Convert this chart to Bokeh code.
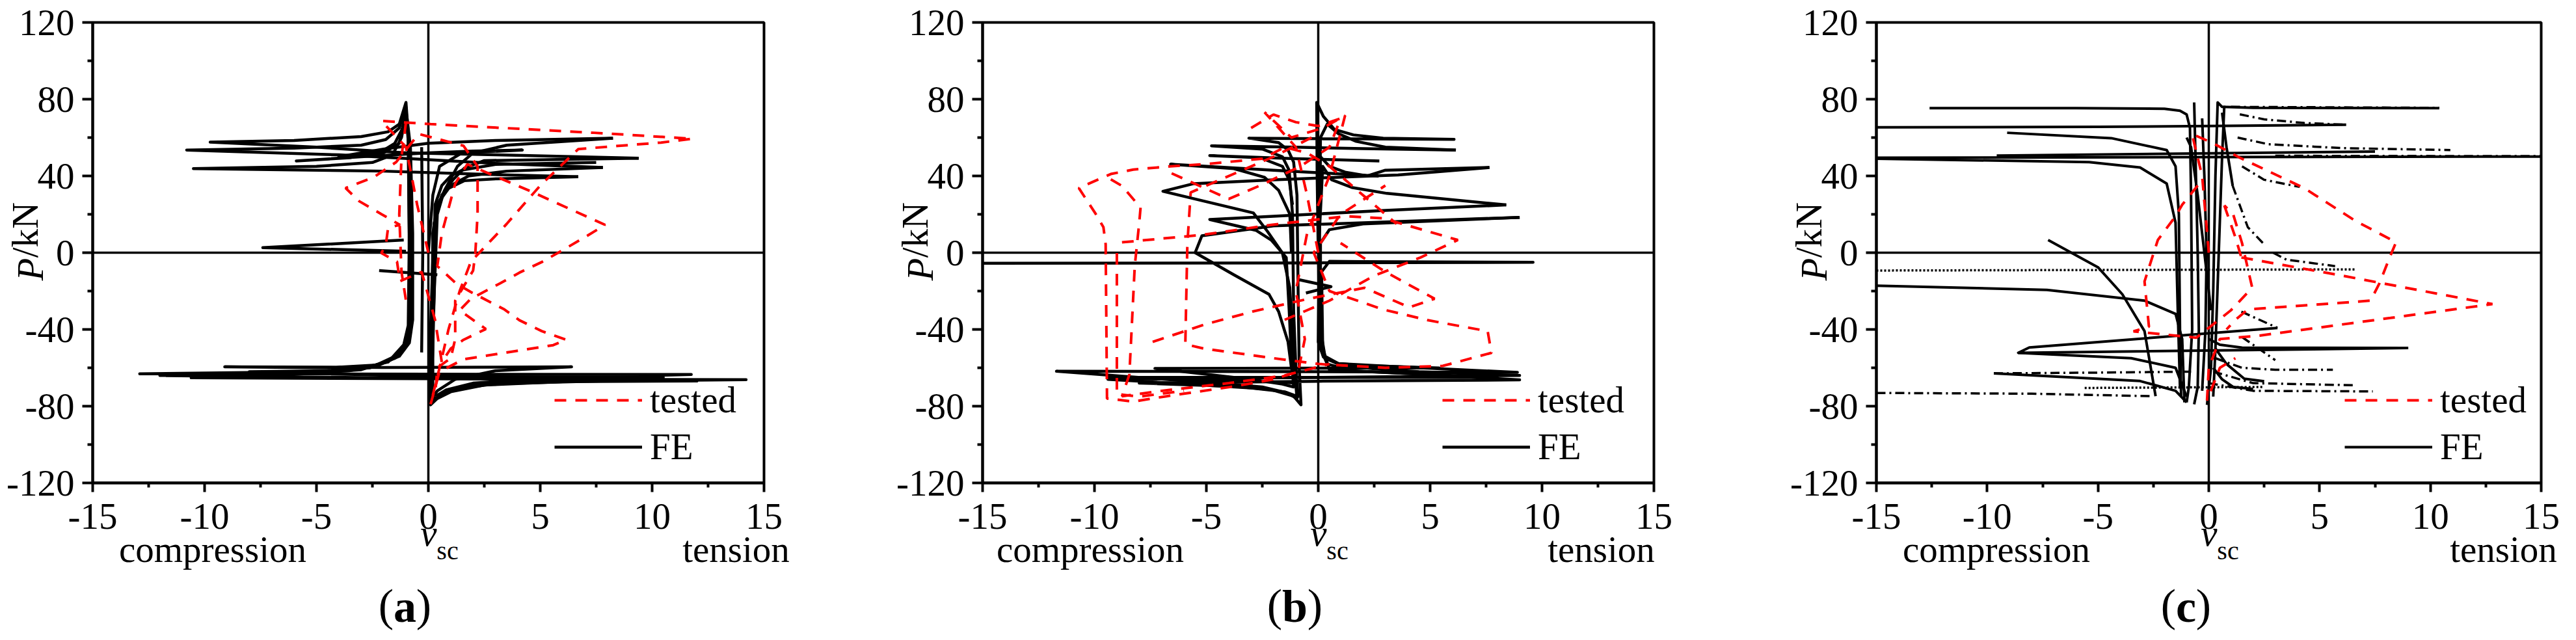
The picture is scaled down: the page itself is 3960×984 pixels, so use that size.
import math
from bokeh.plotting import figure
from bokeh.models import Range1d, FixedTicker, Span, Legend, LegendItem, LinearAxis
from bokeh.layouts import row
from bokeh.embed import file_html
from bokeh.resources import INLINE

FONT = "Liberation Serif"

# ---------------- axes ----------------
x_ticks = [-15, -10, -5, 0, 5, 10, 15]
x_tick_labels = ["-15", "-10", "-5", "0", "5", "10", "15"]
x_minor = [-12.5, -7.5, -2.5, 2.5, 7.5, 12.5]
y_ticks = [-120, -80, -40, 0, 40, 80, 120]
y_tick_labels = ["-120", "-80", "-40", "0", "40", "80", "120"]
y_minor = [-100, -60, -20, 20, 60, 100]

legend_labels = ["tested", "FE"]
side_words = ["compression", "tension"]
x_title = ["v", "sc"]
y_title = ["P", "/kN"]

# ---------------- panel (a) ----------------
a_fe_x = [
    [0, 0.2, 0.5, 1.5, 4.2, 2.0, 0.0, -3.0, -5.9, -3.5, -2.2, -1.5, -1.1, -0.95, -0.8, -0.7, -0.7, -0.85, -1.3, -2.2, -4.5, -9.1, -2.0, 6.4, 3.0, 1.2, 0.4, 0.1, 0.15, 0.2, 0.4, 0.8, 1.6, 3.0, 6.7],
    [6.7, 2.0, -2.0, -10.5, -5.0, -2.5, -1.6, -1.2, -1.0, -0.85, -0.8, -0.8, -1.0, -1.5, -2.6, -5.0, -12.9, 0.0, 11.75, 5.0, 2.0, 0.8, 0.3, 0.05, 0.1, 0.25, 0.5, 1.0, 1.8, 3.5, 7.8],
    [7.8, 3.0, 0.0, -4.0, -10.8, -6.0, -3.0, -1.9, -1.3, -1.0, -0.9, -0.85, -0.85, -1.1, -1.7, -3.0, -6.0, -10.6, 2.0, 14.2, 8.0, 3.0, 1.2, 0.5, 0.1, 0.2, 0.35, 0.6, 1.1, 1.6, 2.5, 9.4],
    [9.4, 3.0, -1.0, -5.0, -9.75, -6.0, -3.0, -1.8, -1.3, -1.0, -0.9, -0.85, -0.9, -1.1, -1.8, -3.5, -7.0, -12.0, 0.0, 12.0, 6.0, 2.5, 1.0, 0.4, 0.1, 0.2, 0.4, 0.7, 1.3, 2.0, 3.5, 8.25],
    [8.25, 3.0, 0.0, -2.0, -4.0, -2.0, -1.3, -1.0, -0.85, -0.8, -0.9, -1.3, -2.5, -4.5, -8.0, 0.0, 10.5, 5.0, 2.0, 0.7, 0.2, 0.2, 0.3, 0.6, 1.0, 1.5, 3.0, 7.5],
    [-1.1, -7.4, -1.0],
    [-2.2, 0.4],
    [-0.3, -0.25, -0.3],
]
a_fe_y = [
    [0, 30, 45, 52, 53.5, 53, 52, 50, 47.8, 49.5, 52, 57, 66, 70, 55, 10, -35, -47, -54, -58.5, -60, -59.5, -59.8, -59.5, -61.5, -66, -72, -77, -50, 10, 25, 33, 37.5, 38.5, 39.6],
    [39.6, 41, 42.5, 43.8, 45, 47, 51, 60, 72, 55, 0, -40, -48, -55, -60, -62, -63.1, -63.3, -63.5, -65.5, -68, -71.5, -75, -79, -40, 15, 27, 35, 40, 42.5, 44.4],
    [44.4, 46.5, 48.5, 51, 53.5, 54.5, 56, 59, 65, 76, 60, 0, -42, -50, -56, -61, -63.5, -65.2, -65.8, -66.2, -66.8, -68.3, -71, -74, -78.5, -50, 20, 30, 38, 44, 48, 49.2],
    [49.2, 51, 52, 55, 57.6, 58.5, 60.5, 63, 67, 78.3, 62, 10, -38, -48, -57, -61.5, -63, -64, -65.5, -66.9, -67.2, -69, -72.5, -76, -79.3, -40, 20, 32, 45, 52, 56, 59.7],
    [59.7, 58.5, 57, 54, 50, 52, 57, 74, 50, -10, -46, -53, -59.5, -61.5, -62, -64.5, -65, -66.5, -69, -73, -77, -30, 25, 35, 40, 43, 46, 47],
    [6.6, 2.6, 0.8],
    [-9.3, -11.5],
    [55, 0, -52],
]
a_test_x = [
    [0, -0.5, -1.0, -2.1, 0.1, 7.4, 11.8, 10.4, 6.7, 5.0, 3.5, 1.9, 1.4, 0.9, 0.5, 0.1, 0.5, 1.57, 3.4, 5.58, 6.16, 5.07, 4.07, 3.4, 1.9, 1.24, 0.4, 0.6, 1.2, 1.74, 4.57, 7.9, 7.1, 6.1, 5.1, 4.07, 3.2, 1.9, 1.4, 2.57, 1.57, 1.0, 0.6],
    [0.6, 0.3, -0.3, -1.27, -1.4, -2.1, -1.9, -1.8, -1.27, -2.1, -3.1, -3.7, -2.44, -1.44, -0.43, 1.57, 2.2, 2.2, 2.1, 2.0, 1.2, 1.2, 1.0, 0.4, 0.3],
    [-1.0, -1.2, -1.3, -1.2, -1.0],
]
a_test_y = [
    [0, 25, 55, 68.7, 67, 62.5, 59.4, 57.4, 54, 35, 15, -4.7, -20, -40, -60, -79, -62, -55.6, -52.2, -48.2, -45.4, -40.9, -35.2, -29.6, -20.5, -16, -7, 10, 36, 46.1, 32, 14.5, 8.8, 2.0, -4.7, -10.4, -16, -24, -30, -39.8, -45.4, -50, -57],
    [-57, -35, -10, -14.9, -4.7, -0.2, 4, 13, 14.5, 20.1, 26.9, 33.7, 39.3, 47.2, 61.9, 55.7, 45, 20, 0, -9.3, -25, -45, -55, -60, -75],
    [68, 50, 20, -10, -25],
]

# ---------------- panel (b) ----------------
b_fe_x = [
    [0, -0.05, -0.07, 0.23, 0.73, 1.57, 2.9, 6.07, 2.0, -1.0, -3.1, -1.77, -1.35, -1.1, -0.95, -0.9, -0.85, -0.77, -1.1, -2.1, -3.8, -8.0, 0.0, 9.0, 4.0, 1.5, 0.4, 0.1, 0.05, 0.1, 0.4, 0.9, 1.7, 3.0, 6.15],
    [6.15, 2.0, -1.0, -4.77, -2.5, -1.6, -1.3, -1.15, -1.1, -1.0, -0.9, -1.5, -3.0, -9.4, 0.0, 9.0, 4.5, 2.5, 1.0, 0.3, 0.05, 0.0, 0.1, 0.5, 1.2, 2.2, 3.0, 7.65],
    [7.65, 3.57, -2.0, -5.6, -6.94, -2.9, -2.27, -1.6, -1.27, -1.15, -1.05, -0.95, -1.4, -2.5, -4.0, -11.7, 0.0, 8.9, 3.2, 0.9, 0.23, 0.0, 0.05, 0.2, 0.6, 1.5, 3.07, 8.4],
    [8.4, 3.0, -2.0, -4.85, -2.77, -2.1, -1.43, -1.3, -1.2, -1.1, -1.6, -3.0, -7.3, 0.0, 5.4, 3.2, 2.2, 0.9, 0.3, 0.1, 0.1, 0.5, 2.0, 9.0],
    [9.0, -2.0, -5.2, -5.5, -3.77, -2.2, -1.77, -1.35, -1.2, -1.0, -2.5, -9.4, 8.0, 3.0, 0.5, 0.2, 0.15, 0.5, 2.0, 9.6, 0.0, -15.0],
    [-0.9, 0.57, -0.55],
    [2.73, -1.0, -4.85, -2.6, -1.6, -1.3, -1.15],
    [2.7, -2.0, -6.6, -3.77, -2.4, -1.77, -1.27, -1.2],
]
b_fe_y = [
    [0, 40, 78.3, 71, 64.2, 61.4, 59.7, 59.1, 59.3, 59.5, 59.7, 57.4, 53.5, 47.2, 30, -20, -60, -79.3, -74.8, -71.4, -69.7, -68, -67, -66.3, -63, -61.5, -58, -50, 0, 60, 67, 62, 58, 55, 53.5],
    [53.5, 54.2, 55, 55.7, 54, 50, 43, 20, -30, -60, -75, -72.5, -70.5, -66, -65, -64, -62, -60.5, -58.5, -55, -45, 10, 50, 45, 42, 40, 43, 44.4],
    [44.4, 40.5, 38, 35.9, 32, 20.7, 11.1, -0.2, -18.3, -45, -62, -76, -73, -70, -68.5, -61.8, -62, -62.4, -59.2, -57.8, -54.4, -46.5, 10, 45, 38, 34, 30.9, 24.9],
    [24.9, 22, 19, 17.3, 11.6, 6.6, -2.5, -30, -55, -70, -68.5, -66, -60.3, -60.2, -60.1, -59.2, -59, -57.8, -54, -40, 5, 12, 15, 18.4],
    [18.4, 14, 8.8, 0, -11.5, -21.7, -30.7, -46.5, -60, -68, -67, -65, -65, -62.5, -61, -50, -10, -4.5, -4.7, -5.0, -5.3, -5.5],
    [-14, -17.7, -21],
    [47.8, 49, 50.6, 49.5, 45, 38, 25],
    [39.9, 43, 46.1, 43.8, 39.3, 32.5, 20.1, 0],
]
b_test_x = [
    [0, -0.5, -1.0, -2.4, -1.2, 0.2, 1.2, 0.5, -0.5, -1.0, -0.6, -0.9, -2.0, -3.77, -6.77, -8.27, -9.44, -9.5, -9.6, -9.94, -10.7, -9.27, -8.27, -6.6, -5.1, -2.5, -1.5, -0.5, 0.5, 1.5, 2.5, 3.5],
    [-0.3, -2.0, -5.7, -5.85, -5.94, -5.1, -2.0, 0.0, 3.0, 5.57, 7.74, 7.57, 4.9, 2.9, 0.5, -0.2, 1.0, 3.0],
    [-9.27, -8.77, -7.94, -8.0, -8.2, -8.44, -8.77, -7.0, -4.0, -1.5, 0.5],
    [-9.0, -9.0, -8.0, -6.0],
    [-8.77, -5.1, -2.1, 1.23, 2.9, 6.24, 4.57, 2.5, 0.5, -1.5],
    [-7.4, -5.1, -2.94, -0.43, 2.07, 4.07, 5.2, 3.0, 1.0],
    [-3.0, -2.0, -1.0, 0.0, 1.0, 0.5, -0.8, -2.6, -4.0, -6.6],
]
b_test_y = [
    [0, 30, 55, 73.2, 60, 65, 71.5, 40, 10, -20, -45, -62, -66, -69.7, -74.8, -77.6, -76, 4.3, 13.3, 20.1, 33.7, 41, 43.3, 45, 46.1, 49, 55, 52, 45, 35, 25, 15],
    [60, 50, 31.4, 4.3, -47.7, -50, -55, -58, -60, -59, -52.2, -40.9, -35.2, -29.6, -20, 0, 20, 35],
    [38.2, 34.8, 23.5, 15.6, -7, -63.5, -74.8, -72, -68, -64, -58],
    [-0.2, -73.7, -75, -72],
    [5.4, 9.4, 14.5, 19, 17.9, 6.6, -2.5, -12, -25, -35],
    [-46.5, -37.5, -30.7, -24, -18.3, -28.5, -24, -10, 5],
    [65, 72, 68, 66, 70, 55, 45, 35, 28, 41.6],
]

# ---------------- panel (c) ----------------
c_fe_x = [
    [-12.6, -6.0, -2.0, -1.3, -1.0, -0.85, -0.8, -0.75, -0.9, -1.0],
    [-0.08, 0.1, 0.2, 0.3, 0.4, 0.6, 2.0, 10.4],
    [-15, -5, 0, 6.2],
    [-9.1, -4.4, -1.9, -1.5, -1.35, -1.3, -1.25],
    [-15, 0, 15],
    [-9.57, 0, 7.5],
    [-15, -5.4, -3.1, -1.9, -1.5, -1.4, -1.3],
    [-15, -7.3, -2.9, -1.5, -1.2, -1.1],
    [-7.25, -5.0, -3.9, -2.9, -2.4],
    [3.1, -8.1, -8.6, 9.0],
    [-8.6, -3.5, -1.5, -1.0],
    [-9.7, -3.1, -1.5, -1.0],
    [-0.66, -0.6, -0.5, -0.45, -0.5, -0.66],
    [-0.3, -0.2, -0.1, -0.15, -0.3],
    [0.7, 0.6, 0.45, 0.3, 0.2],
    [0.3, 0.8, 1.6, 2.5],
    [0.2, 0.6, 1.1, 2.0],
    [0.0, 0.5, 1.5, 9.0],
    [-1.0, -0.8, -0.5, 0.1],
    [0.6, 0.8, 1.08],
]
c_fe_y = [
    [75.3, 75.3, 75, 74, 72, 65, 30, -40, -70, -78],
    [-79.3, -60, -20, 40, 78.3, 76, 75.5, 75.3],
    [65.3, 65.6, 66, 66.7],
    [62.5, 59.7, 53.5, 45, 20, -40, -75],
    [49.5, 49.8, 50.1],
    [50.6, 51.8, 52.7],
    [49, 47.2, 44.4, 36, 15.6, -30, -70],
    [-17.2, -19.4, -25, -31.9, -45, -78],
    [6.6, -7.6, -21.7, -40.9, -74.8],
    [-39.2, -49.4, -52.2, -49.7],
    [-52.2, -55, -60, -75],
    [-62.9, -66.9, -72, -78],
    [78.3, 50, 0, -40, -70, -79],
    [70, 40, 0, -40, -72],
    [76.6, 50, 0, -50, -75],
    [-50, -58, -65.7, -67],
    [-60, -66, -70, -71],
    [-45, -48, -49.5, -49.7],
    [60, 55, 30, -30],
    [73, 55, 34.8],
]
c_dashdot_x = [
    [1.4, 2.5, 4.3, 6.2],
    [1.3, 2.7, 6.0, 10.9],
    [1.5, 2.5, 4.1],
    [1.08, 1.76, 2.5],
    [2.9, 3.5, 5.7],
    [1.47, 3.1],
    [0.3, 1.5, 3.0, 5.6],
    [0.2, 2.0, 6.6],
    [0.0, 2.0, 7.4],
    [-15, -8, -2.5],
    [3, 15],
    [1.0, 5, 10.4],
    [1.5, 2.5, 3.0],
    [-9.7, -5, -0.8],
]
c_dashdot_y = [
    [72.1, 69.5, 67.6, 66.7],
    [60, 56.5, 54.5, 53.5],
    [45, 38, 34.3],
    [34.8, 13.3, 4.3],
    [0, -3.6, -7],
    [-30.7, -39.2],
    [-55, -60, -61, -61],
    [-62, -68, -69.1],
    [-68, -72, -72.3],
    [-73.1, -73.5, -74.8],
    [50.5, 50.3],
    [76, 75.8, 75.5],
    [-44, -52, -56],
    [-62.9, -62.5, -62],
]
c_dot_x = [
    [-15, 6.6],
    [-5.6, 2.5],
]
c_dot_y = [
    [-9.3, -8.7],
    [-70.5, -70],
]
c_test_x = [
    [0, -0.3, -0.76, 0.2, 1.4, 4.3, 6.6, 8.45, 8.16, 7.7, 7.3, 1.76, 1.2, 0.8],
    [1.47, 5.8, 12.8, 8.2, 2.3, 0.5, 0.0, -0.08, 0.5, 1.2],
    [-0.5, -1.2, -1.5, -2.3, -2.9, -2.7, -3.4, -0.56, 1.0, 1.96, 1.5, 1.1, 0.7],
    [0.7, 1.2, 1.47],
]
c_test_y = [
    [0, 40, 61.9, 57, 49.5, 33.7, 16.7, 5.4, -2.5, -16, -25, -29.6, -35, -40],
    [-2.5, -11.5, -26.8, -34, -43.2, -45, -60, -77, -60, -55],
    [35, 25, 19, 6.6, -15, -38.6, -41, -44.3, -30, -18.3, 5, 20, 24.6],
    [24.6, 8, -2.5],
]

# ---------------- layout (page pixels) ----------------
FRAME_TOP = 42
FRAME_H = 708


def make_panel(letter, fl, fw, bl, br, comp_off, tens_off, leg_off, cx_off, half,
               fe_x, fe_y, t_x, t_y, fe_w, dd=None, dots=None):
    sx = fw / 30.0
    sy = FRAME_H / 240.0

    def dx(px):
        return round((px - fl) / sx - 15, 4)

    def dy(py):
        return round(120 - (py - FRAME_TOP) / sy, 4)

    p = figure(frame_width=fw, frame_height=FRAME_H,
               x_range=Range1d(-15, 15), y_range=Range1d(-120, 120),
               min_border_left=bl, min_border_right=br,
               min_border_top=34, min_border_bottom=226,
               toolbar_location=None, output_backend="svg",
               background_fill_color="white", border_fill_color="white")
    p.grid.visible = False
    p.outline_line_color = "black"
    p.outline_line_width = 4
    p.outline_line_alpha = 1.0

    xa = p.xaxis[0]
    xa.ticker = FixedTicker(ticks=x_ticks, minor_ticks=x_minor)
    xa.major_label_overrides = {t: l for t, l in zip(x_ticks, x_tick_labels)}
    xa.major_tick_out = 14
    xa.major_tick_in = 0
    xa.minor_tick_out = 7
    xa.minor_tick_in = 0
    xa.major_label_standoff = 18

    ya = p.yaxis[0]
    ya.ticker = FixedTicker(ticks=y_ticks, minor_ticks=y_minor)
    ya.major_label_overrides = {t: l for t, l in zip(y_ticks, y_tick_labels)}
    ya.major_tick_out = 16
    ya.major_tick_in = 0
    ya.minor_tick_out = 8
    ya.minor_tick_in = 0
    ya.major_label_standoff = 12

    for ax in (xa, ya):
        ax.axis_line_width = 4
        ax.axis_line_color = "black"
        ax.major_tick_line_width = 4
        ax.minor_tick_line_width = 4
        ax.major_tick_line_color = "black"
        ax.minor_tick_line_color = "black"
        ax.major_label_text_font = FONT
        ax.major_label_text_font_size = "57px"
        ax.major_label_text_color = "black"

    # text-only axes used to place captions outside the frame
    def text_axis(side, ticks, labels, size, style, standoff, orient="horizontal"):
        ax = LinearAxis(ticker=FixedTicker(ticks=ticks, minor_ticks=[]),
                        axis_line_alpha=0, major_tick_line_alpha=0,
                        minor_tick_line_alpha=0, major_tick_out=0, major_tick_in=0,
                        minor_tick_out=0, minor_tick_in=0,
                        major_label_standoff=standoff,
                        major_label_text_font=FONT,
                        major_label_text_font_size=size,
                        major_label_text_font_style=style,
                        major_label_text_color="black",
                        major_label_orientation=orient)
        ax.major_label_overrides = {t: l for t, l in zip(ticks, labels)}
        p.add_layout(ax, side)

    zero_px = fl + 15 * sx
    cx = fl + cx_off
    # below stack: v, sc, compression/tension, parentheses, letter
    text_axis("below", [dx(zero_px + 0.5)], [x_title[0]], "57px", "italic", -28)
    text_axis("below", [dx(zero_px + 29.5)], [x_title[1]], "40px", "normal", -30)
    text_axis("below", [dx(fl + comp_off + 146.5), dx(fl + tens_off + 84)],
              side_words, "57px", "normal", -59)
    text_axis("below", [dx(cx - half - 11.5), dx(cx + half + 11.5)], ["(", ")"],
              "70px", "normal", 13)
    text_axis("below", [dx(cx)], [letter], "70px", "bold", -78)
    # left stack: P (italic), /kN
    text_axis("left", [dy(421.5)], [y_title[0]], "57px", "italic", -71, "parallel")
    text_axis("left", [dy(361)], [y_title[1]], "57px", "normal", -63, "parallel")

    p.add_layout(Span(location=0, dimension="height", line_color="black",
                      line_width=3.5, level="underlay"))
    p.add_layout(Span(location=0, dimension="width", line_color="black",
                      line_width=3.5, level="underlay"))

    r_fe = p.multi_line(xs=fe_x, ys=fe_y, line_color="black", line_width=fe_w,
                        line_join="round")
    if dd is not None:
        p.multi_line(xs=dd[0], ys=dd[1], line_color="black", line_width=3.5,
                     line_dash="14 6 3 6")
    if dots is not None:
        p.multi_line(xs=dots[0], ys=dots[1], line_color="black", line_width=3.5,
                     line_dash="3 3")
    r_t = p.multi_line(xs=t_x, ys=t_y, line_color="#ff0000", line_width=4,
                       line_dash="18 14")

    leg = Legend(items=[LegendItem(label=legend_labels[0], renderers=[r_t]),
                        LegendItem(label=legend_labels[1], renderers=[r_fe])],
                 location=(leg_off, 23), glyph_width=135, glyph_height=62,
                 label_height=62, label_standoff=12, spacing=7, padding=0,
                 margin=0, border_line_alpha=0, background_fill_alpha=0,
                 label_text_font=FONT, label_text_font_size="57px",
                 label_text_color="black")
    p.add_layout(leg)
    return p


pa = make_panel("a", 150, 1032, 142, 194, 38, 905, 710, 480, 17.5,
                a_fe_x, a_fe_y, a_test_x, a_test_y, 4.5)
pb = make_panel("b", 1518, 1032, 142, 198, 19, 867, 707, 480, 19.5,
                b_fe_x, b_fe_y, b_test_x, b_test_y, 4.5)
pc = make_panel("c", 2892, 1022, 144, 38, 38, 880, 720, 476, 15.5,
                c_fe_x, c_fe_y, c_test_x, c_test_y, 4,
                dd=(c_dashdot_x, c_dashdot_y), dots=(c_dot_x, c_dot_y))

layout = row(pa, pb, pc, spacing=0)
open("out.html", "w").write(file_html(layout, INLINE))
